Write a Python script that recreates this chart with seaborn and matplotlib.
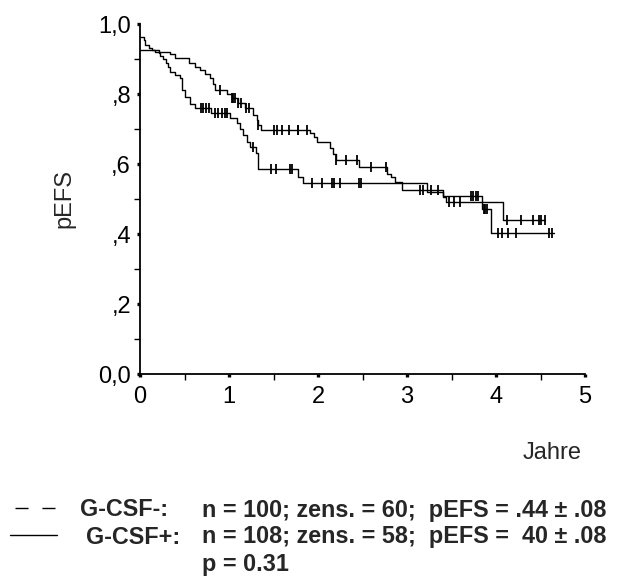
import numpy as np
import pandas as pd
import matplotlib
matplotlib.use("Agg")
import matplotlib.pyplot as plt
from matplotlib.lines import Line2D
import seaborn as sns

# ---- data ----
neg_times = [0, 0.17, 0.34, 0.39, 0.55, 0.62, 0.67, 0.73, 0.79, 0.82, 0.84, 0.98, 1.03,
             1.10, 1.18, 1.27, 1.31, 1.33, 1.36, 1.91, 1.95, 1.99, 2.14, 2.17, 2.20, 2.46,
             2.77, 2.82, 2.86, 2.94, 3.41, 3.44, 4.08]
neg_surv = [0.926, 0.921, 0.914, 0.902, 0.888, 0.878, 0.869, 0.857, 0.845, 0.830, 0.811,
            0.800, 0.790, 0.774, 0.759, 0.740, 0.726, 0.711, 0.698, 0.688, 0.678, 0.662,
            0.645, 0.630, 0.611, 0.591, 0.571, 0.562, 0.549, 0.526, 0.507, 0.492, 0.440]
neg_end = 4.55
neg_cens = [0.90, 1.03, 1.05, 1.07, 1.10, 1.14, 1.19, 1.22, 1.33, 1.50, 1.54, 1.60, 1.67,
            1.77, 1.78, 1.88, 2.20, 2.31, 2.44, 2.60, 2.76, 3.15, 3.18, 3.27, 3.35, 3.47,
            3.53, 3.60, 4.12, 4.28, 4.42, 4.48, 4.50, 4.55]

pos_times = [0, 0.04, 0.06, 0.10, 0.14, 0.21, 0.23, 0.26, 0.29, 0.32, 0.34, 0.39, 0.45,
             0.47, 0.51, 0.56, 0.62, 0.80, 1.01, 1.09, 1.12, 1.16, 1.20, 1.24, 1.30, 1.33,
             1.77, 1.83, 3.22, 3.41, 3.84, 3.94]
pos_surv = [0.964, 0.954, 0.940, 0.931, 0.926, 0.918, 0.908, 0.899, 0.890, 0.878, 0.864,
            0.854, 0.845, 0.811, 0.792, 0.772, 0.760, 0.745, 0.731, 0.717, 0.700, 0.683,
            0.664, 0.648, 0.631, 0.586, 0.564, 0.547, 0.521, 0.509, 0.471, 0.404]
pos_end = 4.65
pos_cens = [0.69, 0.71, 0.74, 0.77, 0.84, 0.88, 0.92, 0.96, 0.98, 1.27, 1.47, 1.53, 1.68,
            1.71, 1.93, 2.05, 2.16, 2.18, 2.25, 2.46, 2.48, 3.72, 3.74, 3.77, 3.80, 3.86,
            3.88, 3.90, 4.02, 4.07, 4.13, 4.22, 4.60, 4.63]

x_ticks = [0, 1, 2, 3, 4, 5]
y_ticks = [0.0, 0.2, 0.4, 0.6, 0.8, 1.0]
y_tick_labels = ["0,0", ",2", ",4", ",6", ",8", "1,0"]

legend_names = ["G-CSF-:", "G-CSF+:"]
legend_texts = ["n = 100; zens. = 60;  pEFS = .44 \u00b1 .08",
                "n = 108; zens. = 58;  pEFS =  40 \u00b1 .08"]
p_text = "p = 0.31"

# ---- build frames ----
def step_frame(times, surv, end, name):
    t = list(times) + [end]
    s = list(surv) + [surv[-1]]
    return pd.DataFrame({"t": t, "s": s, "grp": name})

def cens_frame(times, surv, cens, name):
    idx = np.searchsorted(np.array(times), np.array(cens), side="right") - 1
    return pd.DataFrame({"t": cens, "s": np.array(surv)[idx], "grp": name})

lines = pd.concat([step_frame(neg_times, neg_surv, neg_end, "neg"),
                   step_frame(pos_times, pos_surv, pos_end, "pos")], ignore_index=True)
cens = pd.concat([cens_frame(neg_times, neg_surv, neg_cens, "neg"),
                  cens_frame(pos_times, pos_surv, pos_cens, "pos")], ignore_index=True)

sns.set_style("ticks")
plt.rcParams["font.family"] = ["Liberation Sans", "DejaVu Sans"]

W, H = 617, 585
fig = plt.figure(figsize=(W / 100, H / 100), dpi=100)
ax = fig.add_axes([140 / W, 1 - 374 / H, 445 / W, 350 / H])

sns.lineplot(data=lines, x="t", y="s", units="grp", estimator=None, sort=False,
             drawstyle="steps-post", color="black", linewidth=1.0, ax=ax, legend=False)
sns.scatterplot(data=cens, x="t", y="s", marker="|", s=55, color="black",
                linewidth=1.3, ax=ax, legend=False, clip_on=False, zorder=3)

ax.set_xlim(0, 5)
ax.set_ylim(0, 1)
ax.set_xticks(x_ticks)
ax.set_xticklabels([str(v) for v in x_ticks])
ax.set_yticks(y_ticks)
ax.set_yticklabels(y_tick_labels)
ax.set_xticks(np.arange(0.5, 5, 1.0), minor=True)
ax.set_yticks(np.arange(0.1, 1.0, 0.2), minor=True)
ax.tick_params(axis="both", which="major", length=2.5, width=2.4, labelsize=17,
               color="black", labelcolor="black", pad=4)
ax.tick_params(axis="x", which="major", pad=6)
ax.tick_params(axis="both", which="minor", length=4, width=1.0, color="black")
for sp in ["top", "right"]:
    ax.spines[sp].set_visible(False)
for sp in ["left", "bottom"]:
    ax.spines[sp].set_linewidth(1.3)
    ax.spines[sp].set_color("black")
ax.set_xlabel("")
ax.set_ylabel("")
fig.text(64 / W, 1 - 198 / H, "pEFS", fontsize=17, rotation=90, ha="center", va="center")
fig.text(552 / W, 1 - 453 / H, "Jahre", fontsize=17, ha="center", va="center")

# legend block
fig.add_artist(Line2D([15 / W, 55 / W], [1 - 508 / H, 1 - 508 / H],
                      color="black", linewidth=1.0, linestyle=(0, (9.4, 10))))
fig.add_artist(Line2D([10 / W, 57 / W], [1 - 535 / H, 1 - 535 / H],
                      color="black", linewidth=1.0))
ys = [510, 537]
xs_name = [80, 86]
for name, txt, y, xn in zip(legend_names, legend_texts, ys, xs_name):
    fig.text(xn / W, 1 - y / H, name, fontsize=16.8, fontweight="bold",
             ha="left", va="center")
    fig.text(202 / W, 1 - y / H, txt, fontsize=16.8, fontweight="bold",
             ha="left", va="center")
fig.text(202 / W, 1 - 565 / H, p_text, fontsize=16.8, fontweight="bold",
         ha="left", va="center")

fig.savefig("out.png", dpi=100)
